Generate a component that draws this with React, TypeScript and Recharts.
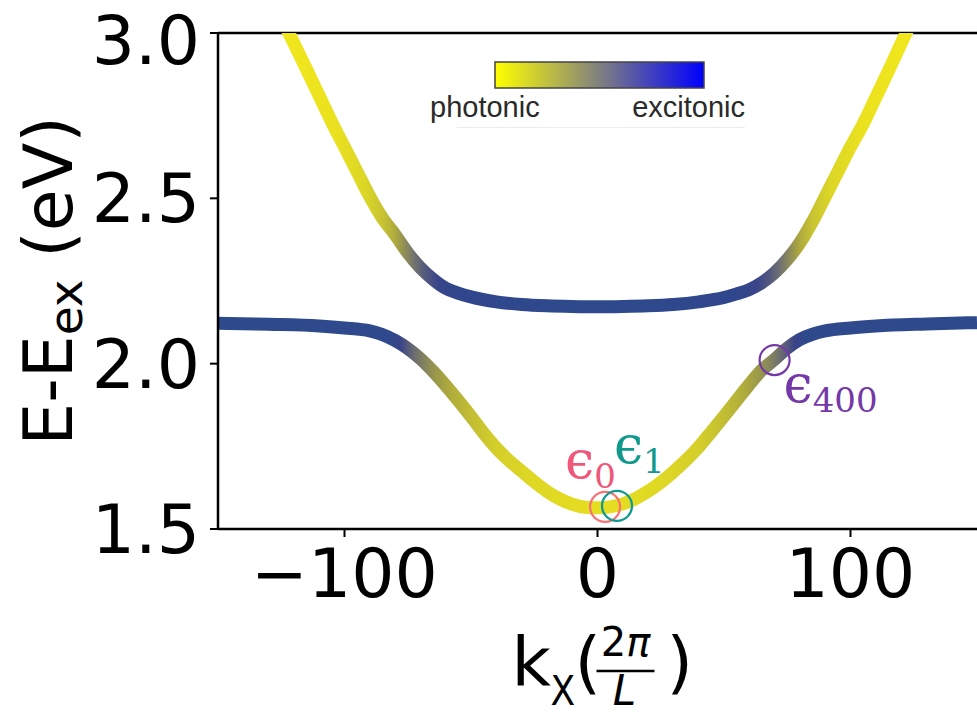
import React from 'react';
import { LineChart, Line, XAxis, YAxis, ReferenceLine, ReferenceDot } from 'recharts';

// lower polariton branch
const K_LOWER = [-150, -130, -110, -100, -90, -85, -80, -75, -70, -65, -60, -55, -50, -45, -40, -35, -30, -25, -20, -15, -10, -5, 0, 5, 10, 15, 20, 25, 30, 35, 40, 45, 50, 55, 60, 65, 70, 75, 80, 85, 90, 100, 110, 130, 150];
const E_LOWER = [2.122, 2.119, 2.114, 2.108, 2.099, 2.088, 2.070, 2.046, 2.015, 1.977, 1.934, 1.888, 1.840, 1.790, 1.745, 1.707, 1.675, 1.643, 1.614, 1.591, 1.575, 1.566, 1.564, 1.567, 1.576, 1.592, 1.614, 1.641, 1.673, 1.708, 1.748, 1.794, 1.841, 1.889, 1.937, 1.981, 2.013, 2.047, 2.073, 2.089, 2.099, 2.108, 2.114, 2.120, 2.124];

// upper polariton branch (runs a little past 3.0 so it gets clipped at the top spine)
const K_UPPER = [-128, -122, -115, -110, -105, -100, -95, -90, -85, -80, -75, -70, -65, -60, -55, -50, -40, -30, -20, -10, 0, 10, 20, 30, 40, 50, 55, 60, 65, 70, 75, 80, 85, 90, 95, 100, 105, 110, 115, 122, 128];
const E_UPPER = [3.09, 3.0, 2.89, 2.81, 2.73, 2.655, 2.58, 2.505, 2.44, 2.39, 2.335, 2.29, 2.255, 2.228, 2.213, 2.202, 2.187, 2.179, 2.175, 2.173, 2.172, 2.173, 2.175, 2.179, 2.187, 2.200, 2.211, 2.224, 2.245, 2.275, 2.315, 2.365, 2.43, 2.505, 2.58, 2.655, 2.725, 2.805, 2.885, 3.0, 3.09];

// photonic/excitonic colour along each branch
const LOWER_STOP_K = [-150, -82, -78, -75, -72, -68, -64, -58, -50, -40, -25, 0, 25, 40, 50, 58, 64, 68, 72, 75, 78, 82, 150];
const LOWER_STOP_COLOR = ['#2d4a8d', '#2f4a8c', '#3a4388', '#545a7c', '#6e6f6c', '#85855e', '#9a984a', '#afac3c', '#c2be33', '#d4cf2a', '#dfd824', '#e6de20', '#dfd824', '#d4cf2a', '#c2be33', '#afac3c', '#9a984a', '#85855e', '#6e6f6c', '#545a7c', '#3a4388', '#2f4a8c', '#2d4a8d'];
const UPPER_STOP_K = [-128, -105, -92, -85, -80, -76, -72, -68, -63, -55, 0, 55, 63, 68, 72, 76, 80, 85, 92, 105, 128];
const UPPER_STOP_COLOR = ['#f2e81c', '#ebe21f', '#dcd626', '#c8c432', '#aeaa3e', '#8e8c58', '#6e7070', '#52597e', '#3a4589', '#30468c', '#2e4a8d', '#30468c', '#3a4589', '#52597e', '#6e7070', '#8e8c58', '#aeaa3e', '#c8c432', '#dcd626', '#ebe21f', '#f2e81c'];

// marked states on the lower branch
const MARKER_K = [3, 7.7, 70];
const MARKER_E = [1.567, 1.570, 2.011];
const MARKER_SUB = ['0', '1', '400'];
const MARKER_RING = ['#f87272', '#0f9a90', '#7438a8'];
const MARKER_TEXT = ['#f0567a', '#12998e', '#7438a8'];
const MARKER_LABEL_OFFSET = [
  { dx: -40, dy: -29 },
  { dx: -3, dy: -43 },
  { dx: 9, dy: 42 },
];

const X_TICKS = [-100, 0, 100];
const Y_TICKS = [1.5, 2.0, 2.5, 3.0];

const lowerData = K_LOWER.map((k, i) => ({ k, e: E_LOWER[i] }));
const upperData = K_UPPER.map((k, i) => ({ k, e: E_UPPER[i] }));

const FONT = '"DejaVu Sans", sans-serif';

const gradientStops = (ks: number[], colors: string[], kMin: number, kMax: number) =>
  ks.map((k, i) => (
    <stop key={i} offset={`${(((k - kMin) / (kMax - kMin)) * 100).toFixed(2)}%`} stopColor={colors[i]} />
  ));

const YLabel = (props: any) => {
  const vb = props.viewBox;
  const x = vb.x + 72;
  const y = vb.y + vb.height / 2;
  return (
    <text x={x} y={y} transform={`rotate(-90, ${x}, ${y})`} textAnchor="middle" fontSize={68} fontFamily={FONT} fill="#000">
      E-E
      <tspan fontSize={47} dy={10}>ex</tspan>
      <tspan dy={-10}>{' (eV)'}</tspan>
    </text>
  );
};

const XLabel = (props: any) => {
  const vb = props.viewBox;
  const cx = vb.x + vb.width / 2;
  return (
    <g fontFamily={FONT} fill="#000">
      <text x={cx - 86} y={686} fontSize={68}>k</text>
      <text x={cx - 47} y={705} fontSize={40} fontFamily={'"DejaVu Sans Condensed", "DejaVu Sans"'}>X</text>
      <text x={cx - 23} y={686} fontSize={68}>(</text>
      <text x={cx + 28} y={656} fontSize={40} textAnchor="middle">
        2<tspan fontStyle="italic">π</tspan>
      </text>
      <line x1={cx - 1} x2={cx + 57} y1={671} y2={671} stroke="#000" strokeWidth={2.5} />
      <text x={cx + 27} y={705} fontSize={42} fontStyle="italic" textAnchor="middle">L</text>
      <text x={cx + 69} y={686} fontSize={68}>)</text>
    </g>
  );
};

const Marker = (i: number) => (props: any) => {
  const { cx, cy } = props;
  const off = MARKER_LABEL_OFFSET[i];
  return (
    <g>
      <circle cx={cx} cy={cy} r={15} fill="none" stroke={MARKER_RING[i]} strokeWidth={2.2} />
      <text x={cx + off.dx} y={cy + off.dy} fill={MARKER_TEXT[i]} fontFamily='"DejaVu Serif", serif' fontSize={52}>
        ϵ
        <tspan fontSize={34} dy={10}>{MARKER_SUB[i]}</tspan>
      </text>
    </g>
  );
};

const Colorbar = () => (
  <svg width={977} height={714} style={{ position: 'absolute', left: 0, top: 0, pointerEvents: 'none' }}>
    <defs>
      <linearGradient id="cbar" x1="0" x2="1" y1="0" y2="0">
        <stop offset="0%" stopColor="#ffff00" />
        <stop offset="50%" stopColor="#808080" />
        <stop offset="100%" stopColor="#0000ff" />
      </linearGradient>
    </defs>
    <rect x={495} y={62} width={209} height={26} fill="url(#cbar)" stroke="#444" strokeWidth={1.5} />
    <text x={430} y={117} fontSize={29} fontFamily='"Liberation Sans", Arial, sans-serif' fill="#2a2a2a">photonic</text>
    <text x={745} y={117} fontSize={29} fontFamily='"Liberation Sans", Arial, sans-serif' fill="#2a2a2a" textAnchor="end">excitonic</text>
    <line x1={457} x2={745} y1={127.5} y2={127.5} stroke="#ececec" strokeWidth={1} />
  </svg>
);

export default function App() {
  return (
    <div style={{ position: 'absolute', left: 0, top: 0, width: 977, height: 714, background: '#fff' }}>
      <LineChart width={977} height={714} margin={{ top: 33, right: 0, bottom: 0, left: 0 }}>
        <defs>
          <linearGradient id="lowerGrad" x1="0" x2="1" y1="0" y2="0">
            {gradientStops(LOWER_STOP_K, LOWER_STOP_COLOR, K_LOWER[0], K_LOWER[K_LOWER.length - 1])}
          </linearGradient>
          <linearGradient id="upperGrad" x1="0" x2="1" y1="0" y2="0">
            {gradientStops(UPPER_STOP_K, UPPER_STOP_COLOR, K_UPPER[0], K_UPPER[K_UPPER.length - 1])}
          </linearGradient>
        </defs>
        <XAxis
          type="number"
          dataKey="k"
          domain={[-150, 150]}
          ticks={X_TICKS}
          tickFormatter={(v: number) => (v < 0 ? `\u2212${Math.abs(v)}` : `${v}`)}
          height={185}
          axisLine={{ stroke: '#000', strokeWidth: 2.5 }}
          tickLine={{ stroke: '#000', strokeWidth: 2 }}
          tickSize={8}
          tickMargin={12}
          tick={{ fontSize: 68, fontFamily: FONT, fill: '#000' }}
          allowDataOverflow
          label={{ content: XLabel }}
        />
        <YAxis
          type="number"
          domain={[1.5, 3.0]}
          ticks={Y_TICKS}
          tickFormatter={(v: number) => v.toFixed(1)}
          width={218}
          axisLine={{ stroke: '#000', strokeWidth: 2.5 }}
          tickLine={{ stroke: '#000', strokeWidth: 2 }}
          tickSize={8}
          tickMargin={10}
          tick={{ fontSize: 68, fontFamily: FONT, fill: '#000' }}
          allowDataOverflow
          label={{ content: YLabel }}
        />
        <ReferenceLine y={3.0} stroke="#000" strokeWidth={2.5} />
        <Line
          data={lowerData}
          dataKey="e"
          type="monotone"
          stroke="url(#lowerGrad)"
          strokeWidth={13}
          dot={false}
          activeDot={false}
          isAnimationActive={false}
        />
        <Line
          data={upperData}
          dataKey="e"
          type="monotone"
          stroke="url(#upperGrad)"
          strokeWidth={13}
          dot={false}
          activeDot={false}
          isAnimationActive={false}
        />
        {MARKER_K.map((k, i) => (
          <ReferenceDot key={i} x={k} y={MARKER_E[i]} r={15} shape={Marker(i)} />
        ))}
      </LineChart>
      <Colorbar />
    </div>
  );
}
